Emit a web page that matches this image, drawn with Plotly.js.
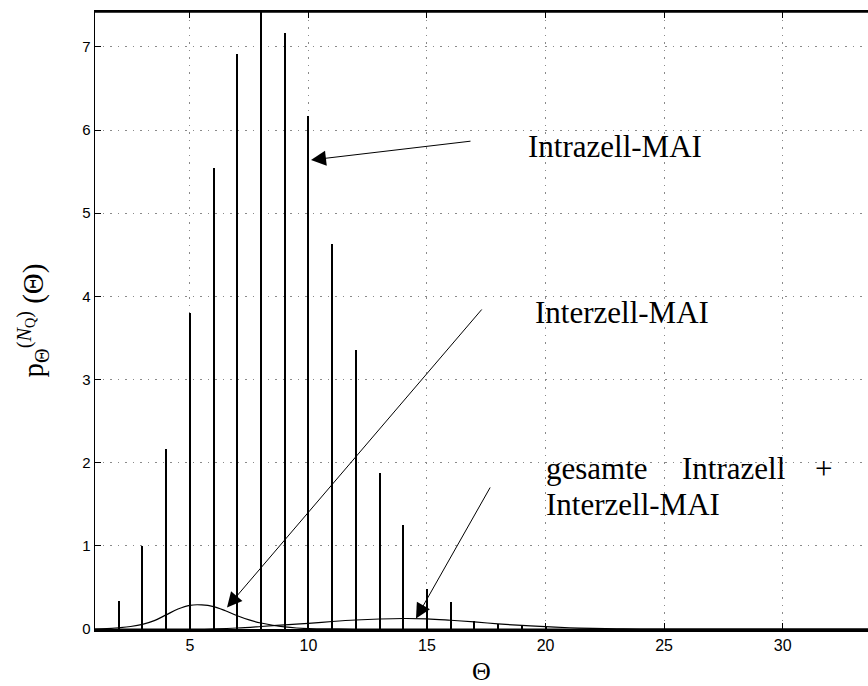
<!DOCTYPE html>
<html>
<head>
<meta charset="utf-8">
<script src="https://cdn.plot.ly/plotly-3.0.1.min.js"></script>
<style>body{margin:0;padding:0;background:#fff;} #chart{width:868px;height:686px;}</style>
</head>
<body>
<div id="chart"></div>
<script>
// Stem values (Intrazell-MAI distribution)
var stemTheta = [2, 3, 4, 5, 6, 7, 8, 9, 10, 11, 12, 13, 14, 15, 16, 17, 18, 19, 20];
var stemP = [0.34, 1.0, 2.17, 3.8, 5.55, 6.91, 7.6, 7.17, 6.17, 4.63, 3.35, 1.88, 1.25, 0.48, 0.33, 0.096, 0.06, 0.036, 0.02];

// Interzell-MAI curve
var interTheta = [1, 1.5, 2, 2.5, 3, 3.5, 4, 4.5, 5, 5.5, 6, 6.5, 7, 7.5, 8, 8.5, 9, 9.5, 10, 11, 12, 34];
var interP = [0, 0.004, 0.015, 0.03, 0.055, 0.1, 0.17, 0.24, 0.285, 0.29, 0.27, 0.22, 0.16, 0.11, 0.072, 0.045, 0.025, 0.012, 0.005, 0.001, 0, 0];

// gesamte Intrazell + Interzell-MAI curve
var totTheta = [1, 5, 6, 7, 8, 9, 10, 11, 12, 13, 14, 15, 16, 17, 18, 19, 20, 21, 22, 23, 24, 34];
var totP = [0, 0, 0.003, 0.012, 0.03, 0.05, 0.068, 0.09, 0.108, 0.12, 0.126, 0.122, 0.105, 0.085, 0.062, 0.043, 0.028, 0.015, 0.007, 0.002, 0, 0];

var xTicks = [5, 10, 15, 20, 25, 30];
var yTicks = [0, 1, 2, 3, 4, 5, 6, 7];

// layout geometry helpers (pixel -> data)
var L = 95, T = 12, B = 629, R = 868;
var xMin = 1, xMax = 33.6, yMin = 0, yMax = 7.42;
function px2x(px) { return xMin + (px - L) / (R - L) * (xMax - xMin); }
function py2y(py) { return yMin + (B - py) / (B - T) * (yMax - yMin); }

var traces = [
  {type: 'bar', x: stemTheta, y: stemP, width: 0.085, marker: {color: '#000', line: {width: 0}}, hoverinfo: 'x+y'},
  {type: 'scatter', mode: 'lines', x: interTheta, y: interP, line: {color: '#000', width: 1.2, shape: 'spline'}},
  {type: 'scatter', mode: 'lines', x: totTheta, y: totP, line: {color: '#000', width: 1.2, shape: 'spline'}}
];

var serif = 'Liberation Serif, Times New Roman, serif';
var txtFont = {family: serif, size: 31, color: '#000'};

function label(text, px, py) {
  return {x: px2x(px), y: py2y(py), xref: 'x', yref: 'y', text: text, showarrow: false,
          xanchor: 'left', yanchor: 'middle', font: txtFont};
}
function arrow(tipPx, tipPy, tailPx, tailPy) {
  return {x: px2x(tipPx), y: py2y(tipPy), ax: px2x(tailPx), ay: py2y(tailPy), axref: 'x', ayref: 'y',
          xref: 'x', yref: 'y', text: '', showarrow: true, arrowhead: 2, arrowsize: 3, arrowwidth: 1, arrowcolor: '#000', standoff: 0};
}

var gridDash = '1.5px,6px';

var layout = {
  width: 868, height: 686,
  margin: {l: L, r: 868 - R, t: T, b: 686 - B, pad: 0},
  paper_bgcolor: '#fff', plot_bgcolor: '#fff',
  showlegend: false,
  bargap: 0,
  xaxis: {
    range: [xMin, xMax], tickvals: xTicks, ticktext: xTicks.map(String),
    ticks: 'inside', ticklen: 6, tickcolor: '#000', tickwidth: 1,
    showline: true, linecolor: '#000', linewidth: 2.5, mirror: 'ticks',
    showgrid: true, gridcolor: '#8a8a8a', griddash: gridDash, gridwidth: 1,
    zeroline: false,
    tickfont: {family: 'Liberation Sans, Arial, sans-serif', size: 16, color: '#000'},
    title: {text: 'Θ', font: {family: serif, size: 26, color: '#000'}, standoff: 14}
  },
  yaxis: {
    range: [yMin, yMax], tickvals: yTicks, ticktext: yTicks.map(String),
    ticks: 'inside', ticklen: 6, tickcolor: '#000', tickwidth: 1,
    showline: true, linecolor: '#000', linewidth: 1.5, mirror: false,
    showgrid: true, gridcolor: '#8a8a8a', griddash: gridDash, gridwidth: 1,
    zeroline: false,
    tickfont: {family: 'Liberation Sans, Arial, sans-serif', size: 15, color: '#000'},
    title: {text: 'p<sub>Θ</sub><sup>(<i>N</i><sub>Q</sub>)</sup> (Θ)', font: {family: serif, size: 29, color: '#000'}, standoff: 30}
  },
  annotations: [
    label('Intrazell-MAI', 526, 146),
    label('Interzell-MAI', 533, 312),
    label('gesamte', 544, 468),
    label('Intrazell', 680, 468),
    label('+', 813, 468),
    label('Interzell-MAI', 544, 504),
    arrow(311, 160, 472, 141),
    arrow(227, 607.5, 483, 308),
    arrow(416, 618.5, 491, 486)
  ],
  shapes: [
    {type: 'line', xref: 'paper', yref: 'paper', x0: 0, x1: 1, y0: 1, y1: 1, line: {color: '#000', width: 1.5}}
  ]
};

Plotly.newPlot('chart', traces, layout, {staticPlot: true, displayModeBar: false});
</script>
</body>
</html>
